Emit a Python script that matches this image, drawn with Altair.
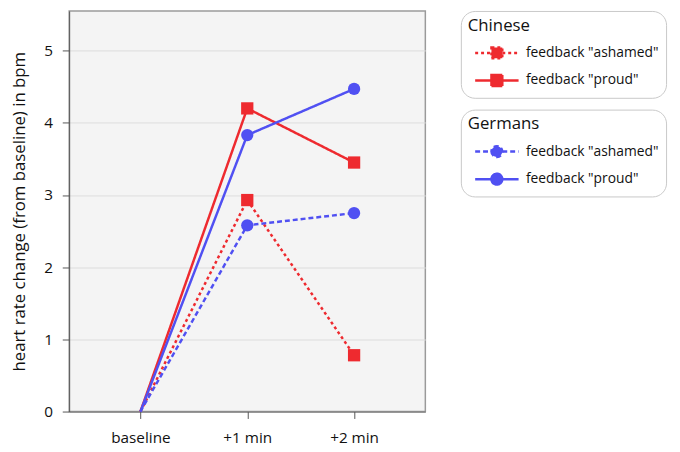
import altair as alt
import pandas as pd

time_labels = ["baseline", "+1 min", "+2 min"]
time_pos = [0, 1, 2]
feedbacks = ['feedback "ashamed"', 'feedback "proud"']
chinese_ashamed = [0, 2.93, 0.78]
chinese_proud = [0, 4.20, 3.45]
german_ashamed = [0, 2.58, 2.75]
german_proud = [0, 3.83, 4.47]

RED = "#ee2a2f"
BLUE = "#5050f2"

rows = []
for grp, fb, vals in [
    ("Chinese", feedbacks[0], chinese_ashamed),
    ("Chinese", feedbacks[1], chinese_proud),
    ("Germans", feedbacks[0], german_ashamed),
    ("Germans", feedbacks[1], german_proud),
]:
    for t, v in zip(time_pos, vals):
        rows.append({"group": grp, "feedback": fb, "t": t, "value": v})
df = pd.DataFrame(rows)

label_expr = "datum.value == 0 ? 'baseline' : datum.value == 1 ? '+1 min' : '+2 min'"

x_enc = alt.X(
    "t:Q",
    scale=alt.Scale(domain=[-0.667, 2.667], nice=False, zero=False),
    axis=alt.Axis(values=time_pos, labelExpr=label_expr, title=None, grid=False,
                  tickSize=7, labelPadding=12, labelFontSize=15.5, domainColor="#555",
                  tickColor="#555", labelColor="#111"),
)
y_enc = alt.Y(
    "value:Q",
    scale=alt.Scale(domain=[0, 5.55], nice=False),
    axis=alt.Axis(values=[0, 1, 2, 3, 4, 5], title="heart rate change (from baseline) in bpm",
                  titleFontSize=17, titleFontWeight="normal", titleColor="#111", titlePadding=15,
                  tickSize=7, labelPadding=10, labelFontSize=15.5, gridColor="#dcdcdc",
                  domainColor="#555", tickColor="#555", labelColor="#111"),
)

SQ_PATH = "M-2,0L-0.5,0M0.5,0L2,0M-0.5,-0.5L0.5,-0.5L0.5,0.5L-0.5,0.5Z"
CI_PATH = "M-2,0L-0.5,0M0.5,0L2,0M-0.5,0A0.5,0.5 0 1,0 0.5,0A0.5,0.5 0 1,0 -0.5,0Z"


def group_chart(group, color, dash, marker, path, ly):
    d = df[df.group == group]
    leg = alt.Legend(
        title=group, orient="none", legendX=397, legendY=ly,
        symbolType=path, symbolSize=484, symbolStrokeWidth=2.5, symbolOffset=17,
        symbolFillColor=color, labelFontSize=14, labelColor="#111", labelOffset=17,
        titleFontSize=17, titleFontWeight="normal", titleColor="#111", titlePadding=6,
        strokeColor="#c8c8c8", cornerRadius=14, padding=7, fillColor="white",
        rowPadding=5, labelLimit=200,
    )
    sc = alt.Scale(domain=feedbacks, range=[color, color])
    line = alt.Chart(d).mark_line(strokeWidth=2.5).encode(
        x=x_enc, y=y_enc,
        color=alt.Color("feedback:N", scale=sc, legend=leg),
        strokeDash=alt.StrokeDash("feedback:N", scale=alt.Scale(domain=feedbacks, range=[dash, [1, 0]]), legend=leg),
    )
    pts = alt.Chart(d).transform_filter("datum.t > 0").mark_point(
        filled=True, shape=marker, size=155, opacity=1
    ).encode(
        x=x_enc, y=y_enc,
        color=alt.Color("feedback:N", scale=sc, legend=None),
    )
    return alt.layer(line, pts)


chinese = group_chart("Chinese", RED, [3, 3], "square", SQ_PATH, 0)
germans = group_chart("Germans", BLUE, [5, 3], "circle", CI_PATH, 100)

chart = alt.layer(chinese, germans).resolve_scale(
    color="independent", strokeDash="independent"
).properties(
    width=361, height=406,
    autosize=alt.AutoSizeParams(type="none"),
    padding={"left": 62, "top": 0, "right": 250, "bottom": 38},
).configure(font="Open Sans").configure_view(
    fill="#f4f4f4", stroke="#9a9a9a", strokeWidth=1.5
)

chart.save("out.html", embed_options={"renderer": "svg", "actions": False})
